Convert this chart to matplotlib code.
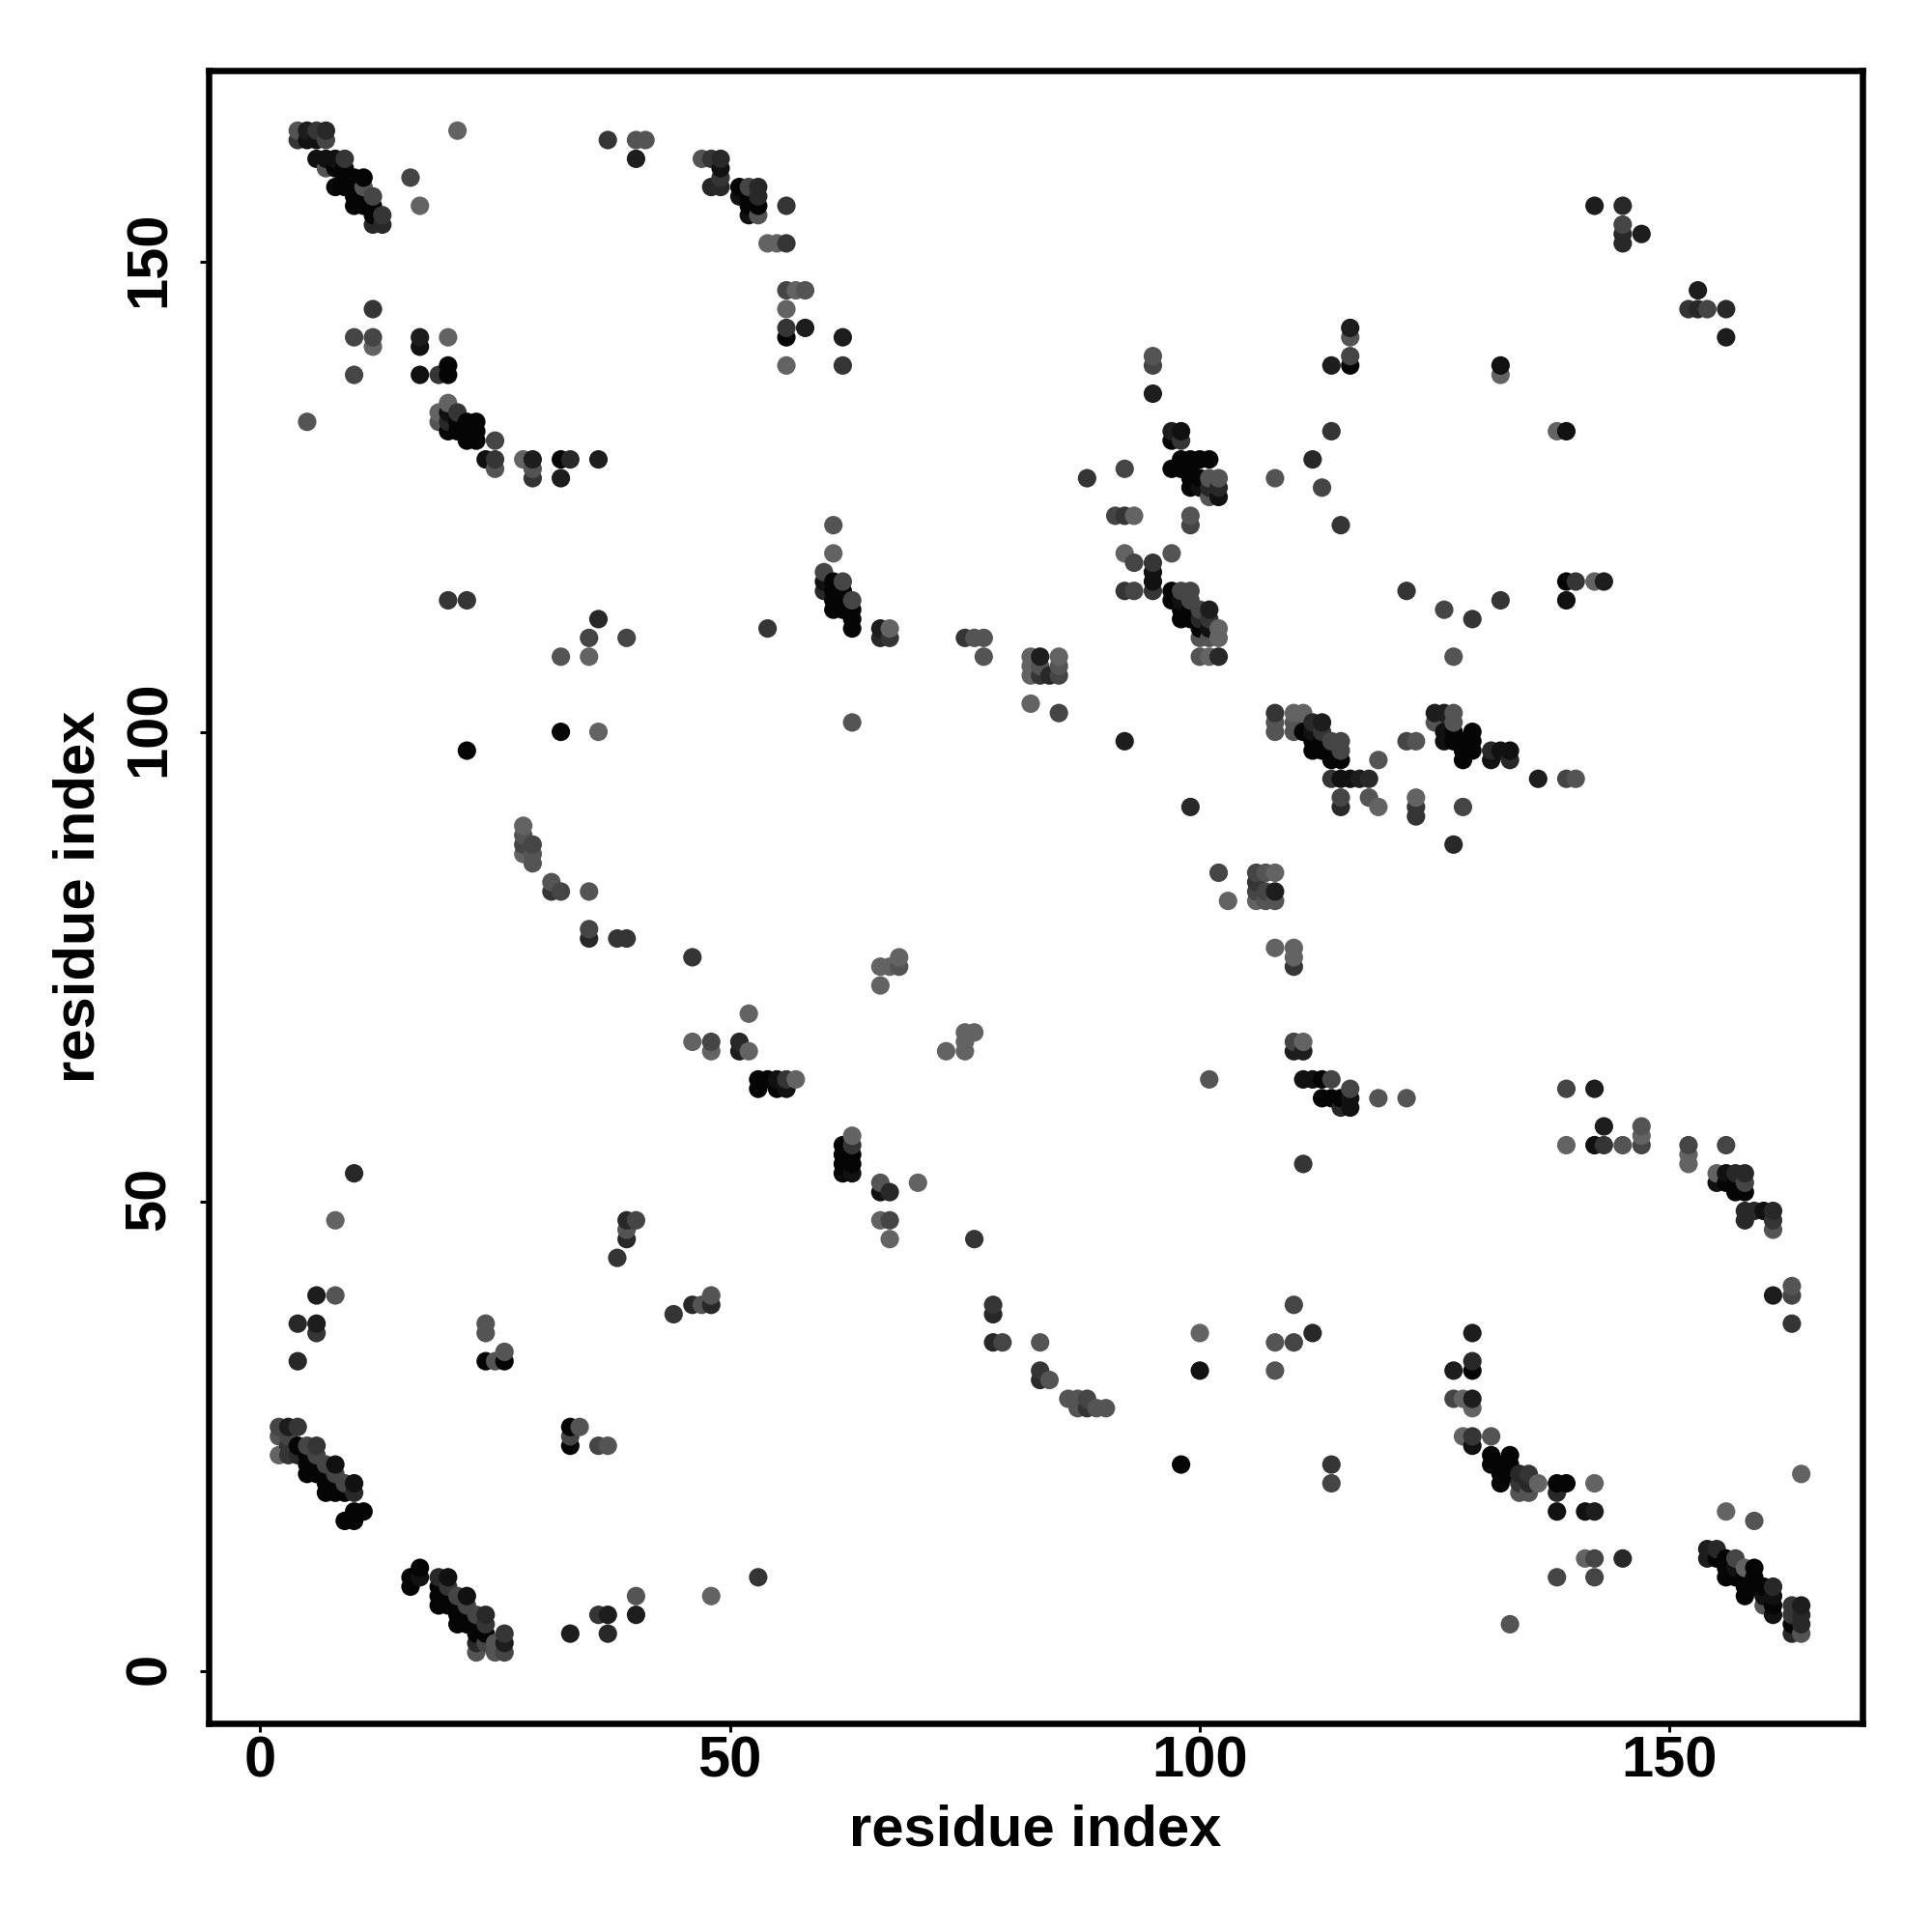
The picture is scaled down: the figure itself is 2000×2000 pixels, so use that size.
import numpy as np
from matplotlib import pyplot as plt
from matplotlib.transforms import ScaledTranslation

plt.rcParams["font.family"] = ["Liberation Sans", "DejaVu Sans"]

# contacts, one x/y pair of lists per grey level
black_x = [8, 9, 10, 11, 8, 9, 10, 10, 11, 10, 11, 12, 12, 9,
           51, 52, 52, 53, 56, 116, 139,
           97, 98, 99, 100, 101, 97, 98, 99, 99, 100, 99, 97, 97, 98, 99, 98, 99, 100,
           61, 61, 62, 61, 62, 61, 62, 63, 63, 63,
           20, 20, 21, 22, 23, 20, 21, 22, 23, 22, 23, 32,
           32, 22, 53, 54, 53, 55,
           113, 113, 114, 115, 111, 112, 113, 112, 113, 114, 114, 115,
           127, 127, 128, 129, 129, 129, 128, 128,
           156, 157, 157, 158,
           24, 26, 4, 5, 5, 6, 5, 6, 7, 7, 8, 7, 8, 9, 10, 11, 9, 10,
           17, 16, 16, 19, 19, 20, 19, 20, 21, 21, 22, 21, 22, 23, 23, 24, 33, 33,
           98, 62, 62, 63, 63, 62, 62,
           129, 131, 133, 131, 132, 133, 132, 133, 132, 138, 139,
           155, 156, 156, 159, 156, 157, 158, 159, 158, 159, 160, 158, 161, 163]
black_y = [160, 159, 159, 159, 158, 158, 158, 157, 157, 156, 156, 156, 155, 160,
           158, 157, 156, 156, 142, 139, 116,
           131, 129, 129, 129, 129, 128, 128, 128, 127, 127, 126, 115, 114, 113, 113, 112, 112, 111,
           116, 115, 115, 114, 114, 113, 113, 113, 112, 111,
           138, 139, 133, 133, 133, 132, 132, 132, 132, 131, 131, 129,
           100, 98, 63, 63, 62, 62,
           63, 61, 61, 61, 100, 99, 99, 98, 98, 98, 97, 97,
           100, 99, 99, 100, 99, 98, 98, 97,
           52, 52, 51, 51,
           33, 33, 24, 23, 22, 22, 21, 21, 21, 20, 20, 19, 19, 19, 17, 17, 16, 16,
           11, 10, 9, 9, 8, 8, 7, 7, 7, 6, 6, 5, 5, 5, 4, 4, 26, 24,
           22, 56, 55, 55, 54, 54, 53,
           32, 23, 23, 22, 22, 22, 21, 21, 20, 20, 20,
           12, 12, 11, 11, 10, 10, 10, 10, 9, 9, 9, 8, 7, 5]

ink_x = [5, 6, 6, 7, 8, 49, 51, 52, 132, 139, 139, 98, 100, 102, 95, 95, 98, 101, 60,
         17, 17, 20, 24, 55, 56, 111, 112, 116, 116, 112, 115, 116, 126, 126, 132, 133,
         131, 142, 156, 155, 160, 8, 10, 17, 20, 22, 66, 63, 100, 129, 138, 141, 157,
         160, 161, 161]
ink_y = [163, 163, 161, 161, 161, 160, 157, 155, 139, 132, 114, 132, 126, 125, 117, 116, 114, 111, 116,
         141, 138, 134, 129, 63, 62, 63, 63, 61, 60, 100, 95, 95, 100, 99, 98, 98,
         97, 56, 53, 52, 49, 22, 20, 10, 10, 8, 51, 53, 32, 24, 17, 17, 11,
         8, 8, 6]

coal_x = [5, 40, 58, 62, 142, 147, 153, 156, 116, 114, 143, 95, 97, 101, 66, 83,
          17, 29, 32, 36, 92, 108, 110, 111, 113, 117, 125, 126, 136, 142, 143,
          6, 6, 3, 26, 33, 37, 40, 51, 127, 129, 129, 142, 154, 154, 164, 161]
coal_y = [164, 161, 143, 142, 156, 153, 147, 142, 143, 139, 116, 136, 132, 113, 111, 108,
          142, 129, 127, 129, 99, 83, 66, 66, 101, 95, 102, 102, 95, 62, 58,
          40, 37, 26, 3, 4, 6, 6, 66, 32, 36, 29, 17, 13, 12, 7, 40]

soot_x = [7, 12, 13, 49, 48, 49, 53, 53, 145, 145, 145, 153, 156, 112, 101, 102,
          100, 102, 60, 66, 20, 33, 36, 84, 35, 51, 10, 39, 39, 99, 115, 112, 118,
          115, 127, 131, 133, 157, 158, 158, 159, 161, 158, 4, 4, 46, 48, 4, 10, 19,
          24, 23, 37, 78, 78, 83, 112, 67, 129, 134, 135, 138, 145, 155, 161, 164, 164, 163]
soot_y = [164, 154, 154, 161, 158, 158, 158, 157, 156, 153, 152, 145, 145, 129, 126, 126,
          112, 108, 115, 110, 133, 129, 112, 106, 78, 67, 53, 48, 46, 92, 60, 101, 95,
          92, 88, 98, 97, 53, 53, 49, 49, 49, 48, 37, 33, 39, 39, 23, 19, 10,
          6, 3, 4, 38, 35, 31, 36, 51, 33, 21, 20, 19, 12, 13, 9, 6, 5, 4]

slate_x = [6, 4, 9, 13, 37, 48, 49, 56, 56, 56, 62, 152, 114, 115, 122, 129, 132, 140,
           98, 88, 92, 95, 95, 92, 101, 67, 54, 75, 83, 12, 19, 21, 25, 29, 20, 22, 31,
           38, 39, 46, 38, 106, 110, 56, 111, 108, 113, 114, 123, 123, 161, 143, 6, 44,
           4, 3, 3, 6, 20, 24, 26, 36, 53, 76, 78, 83, 88, 114, 63, 129, 135, 134, 163, 163, 163]
slate_y = [164, 163, 161, 155, 163, 161, 159, 156, 152, 143, 139, 145, 132, 122, 115, 112, 114, 116,
           131, 127, 123, 118, 115, 115, 112, 110, 111, 110, 106, 145, 138, 134, 129, 127, 114, 114, 83,
           78, 78, 76, 44, 84, 75, 63, 54, 102, 100, 95, 92, 91, 48, 56, 36, 38,
           26, 23, 24, 24, 9, 5, 4, 6, 10, 46, 39, 32, 28, 22, 56, 25, 21, 20, 7, 6, 37]

iron_x = [7, 12, 16, 52, 56, 145, 154, 116, 113, 126, 95, 92, 91, 99, 93, 93, 98, 99, 99, 100,
          60, 62, 63, 10, 12, 10, 25, 35, 39, 28, 29, 32, 35, 48, 40, 85, 102, 106, 106, 107,
          110, 114, 116, 114, 115, 115, 122, 115, 128, 139, 139, 147, 152, 156, 158, 2, 3, 5,
          6, 7, 8, 9, 21, 22, 23, 24, 26, 33, 36, 67, 79, 88, 110, 110, 114, 127, 142, 138,
          142, 157, 163, 85]
iron_y = [163, 157, 159, 158, 147, 154, 145, 140, 126, 113, 139, 128, 123, 122, 118, 115, 115, 115, 114, 113,
          117, 116, 114, 142, 142, 138, 131, 110, 110, 88, 88, 83, 79, 67, 48, 102, 85, 85, 83, 83,
          67, 63, 62, 99, 99, 98, 99, 93, 92, 95, 62, 56, 56, 56, 52, 26, 25, 24,
          23, 22, 21, 20, 8, 7, 6, 3, 2, 25, 24, 48, 35, 29, 39, 35, 20, 29, 12, 10,
          10, 12, 40, 106]

ash_x = [4, 7, 11, 53, 40, 41, 47, 58, 116, 108, 127, 95, 101, 102, 101, 99, 97, 100, 101, 100,
         61, 76, 77, 77, 83, 85, 5, 19, 25, 29, 32, 28, 29, 29, 31, 35, 39, 63, 107, 107, 108,
         68, 101, 119, 122, 108, 108, 110, 110, 119, 123, 118, 127, 125, 127, 140, 145, 147, 161,
         8, 24, 24, 26, 25, 47, 48, 2, 23, 25, 25, 40, 34, 37, 83, 84, 86, 87, 87, 89, 90,
         108, 108, 66, 131, 134, 135, 133, 159, 160, 163, 164]
ash_y = [164, 160, 158, 155, 163, 163, 161, 147, 142, 127, 108, 140, 127, 127, 125, 123, 119, 110, 110, 108,
         122, 110, 110, 108, 107, 107, 133, 133, 128, 128, 108, 89, 87, 86, 84, 83, 47, 101, 85, 82, 82,
         75, 63, 61, 61, 101, 100, 101, 100, 97, 99, 93, 102, 101, 101, 95, 56, 58, 47,
         40, 37, 36, 34, 33, 39, 40, 25, 2, 2, 3, 8, 26, 24, 35, 31, 29, 29, 28, 28, 28,
         35, 32, 52, 25, 19, 19, 5, 16, 7, 41, 4]

smoke_x = [17, 21, 54, 55, 57, 56, 56, 132, 138, 142, 93, 92, 102, 102, 101, 61, 67, 82, 85, 82, 82,
           12, 20, 20, 19, 28, 35, 36, 28, 28, 52, 46, 48, 52, 8, 82, 103, 108, 106, 108, 110, 110,
           66, 67, 68, 66, 75, 76, 75, 75, 73, 57, 111, 110, 111, 119, 123, 139, 147, 152, 152, 155,
           2, 48, 66, 67, 100, 63, 70, 128, 129, 128, 136, 142, 141, 156, 164, 158]
smoke_y = [156, 164, 152, 152, 147, 145, 139, 138, 132, 116, 123, 119, 111, 110, 108, 119, 111, 108, 108, 107, 106,
           141, 142, 135, 134, 129, 108, 100, 90, 87, 70, 67, 66, 66, 48, 103, 82, 85, 82, 77, 77, 76,
           75, 75, 76, 73, 68, 68, 67, 66, 66, 63, 67, 102, 102, 92, 93, 56, 57, 55, 54, 53,
           23, 8, 48, 46, 36, 57, 52, 29, 28, 25, 20, 20, 12, 17, 21, 11]

level_x = [black_x, ink_x, coal_x, soot_x, slate_x, iron_x, ash_x, smoke_x]
level_y = [black_y, ink_y, coal_y, soot_y, slate_y, iron_y, ash_y, smoke_y]
level_grey = [0.02, 0.07, 0.115, 0.16, 0.21, 0.27, 0.33, 0.39]

x_ticks = [0, 50, 100, 150]
y_ticks = [0, 50, 100, 150]


def main():
    xs = np.concatenate(level_x)
    ys = np.concatenate(level_y)
    greys = np.concatenate([[g] * len(v) for g, v in zip(level_grey, level_x)])

    # points were plotted by x then y, so later ones sit on top
    order = np.lexsort((ys, xs))

    figure = plt.figure(figsize=(20, 20), dpi=100)
    axis = figure.add_axes([216 / 2000, 1 - 1784 / 2000, 1711.5 / 2000, 1711 / 2000])

    axis.scatter(
        xs[order],
        ys[order],
        c=greys[order],
        cmap="gray",
        vmin=0,
        vmax=1,
        s=190,
        linewidths=0
    )

    axis.set_xlim(-5.48, 170.46)
    axis.set_ylim(-5.55, 170.4)

    axis.set_xticks(x_ticks)
    axis.set_yticks(y_ticks)
    axis.tick_params(axis="x", length=6.5, width=2.2, labelsize=43, pad=2.2)
    axis.tick_params(axis="y", length=6.5, width=2.2, labelsize=43, pad=17.5)
    nudge_up = ScaledTranslation(0, 3 / 100, figure.dpi_scale_trans)
    for label in axis.get_xticklabels():
        label.set_fontweight("bold")
    for label in axis.get_yticklabels():
        label.set_fontweight("bold")
        label.set_rotation(90)
        label.set_verticalalignment("center")
        label.set_transform(label.get_transform() + nudge_up)

    for spine in axis.spines.values():
        spine.set_linewidth(4.7)

    axis.set_xlabel("residue index", fontsize=43, fontweight="bold", labelpad=11.6)
    axis.set_ylabel("residue index", fontsize=43, fontweight="bold", labelpad=13)

    figure.savefig("out.png", dpi=100)


main()
